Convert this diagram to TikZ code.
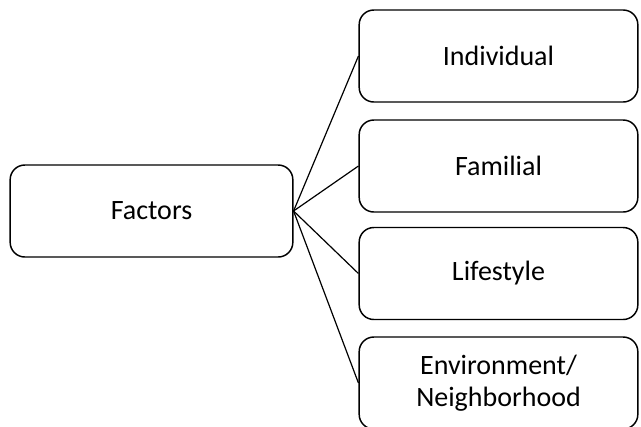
\documentclass[tikz,border=0pt]{standalone}
\usepackage{fontspec}
\setmainfont{Carlito}
\usetikzlibrary{positioning}

\tikzset{every picture/.style={line width=0.75pt}}
\tikzset{factorbox/.style={draw, rounded corners=11pt, line width=1.1pt, minimum height=69pt, align=center, inner sep=0pt, font=\fontsize{21}{24}\selectfont}}

\begin{document}
\begin{tikzpicture}[x=0.75pt,y=0.75pt,yscale=-1,xscale=1]
\useasboundingbox (0,0) rectangle (641,426);
\clip (0,0) rectangle (641,426);

% Left box
\node [factorbox, minimum width=212pt] (factors) at (151.5,211) {Factors};
% Right boxes
\node [factorbox, minimum width=209pt] (individual) at (498.5,56) {Individual};
\node [factorbox, minimum width=209pt] (familial) at (498.5,166) {Familial};
\node [factorbox, minimum width=209pt] (lifestyle) at (498.5,273.5) {Lifestyle};
\node [factorbox, minimum width=209pt] (environment) at (498.5,383) {Environment/\\Neighborhood};

% Connectors
\draw [line width=0.9pt] (factors.east) -- (individual.west);
\draw [line width=0.9pt] (factors.east) -- (familial.west);
\draw [line width=0.9pt] (factors.east) -- (lifestyle.west);
\draw [line width=0.9pt] (factors.east) -- (environment.west);

\end{tikzpicture}
\end{document}
